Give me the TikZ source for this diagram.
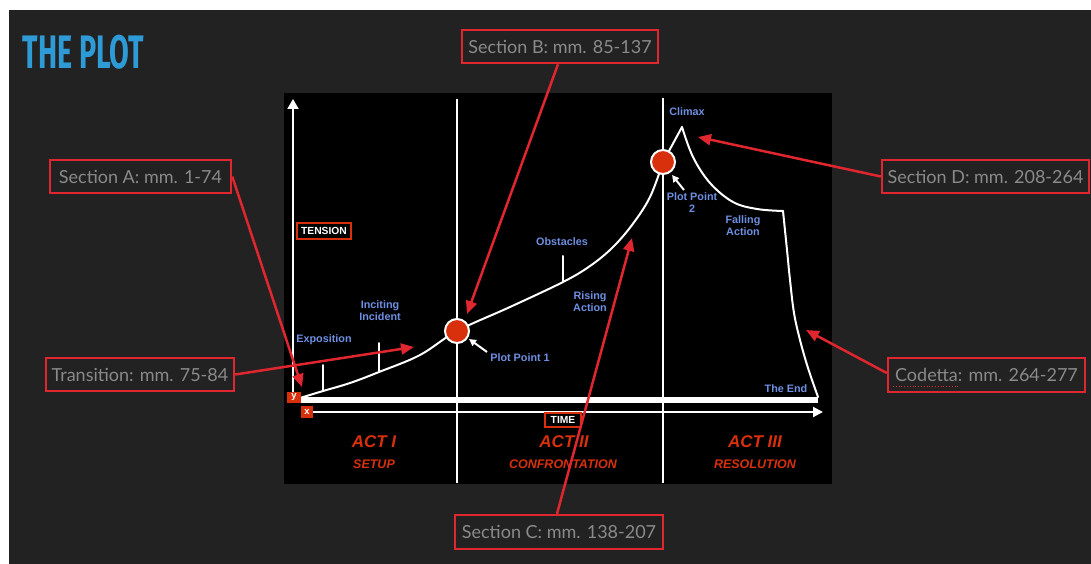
\documentclass[tikz,border=0pt]{standalone}
\usepackage{fontspec}
\setmainfont{Liberation Sans}
\newfontfamily\annfont{Lato}
\newfontfamily\titlefont{Fira Sans}
\usetikzlibrary{arrows.meta}
\definecolor{bgdark}{HTML}{222222}
\definecolor{titleblue}{HTML}{2E9BD6}
\definecolor{lblblue}{HTML}{6E8FE2}
\definecolor{actred}{HTML}{D8300C}
\definecolor{annred}{HTML}{E0262E}
\definecolor{anngray}{HTML}{8A8A8A}
\tikzset{
  lbl/.style={text=lblblue, font=\fontsize{10.8}{12}\selectfont\bfseries, align=center, inner sep=0pt},
  acttitle/.style={text=actred, font=\fontsize{17}{17}\selectfont\bfseries\itshape, inner sep=0pt},
  actsub/.style={text=actred, font=\fontsize{12.5}{12.5}\selectfont\bfseries\itshape, inner sep=0pt},
  annot/.style={draw=annred, line width=2.5pt, fill=bgdark, text=anngray, font=\annfont\fontsize{18}{18}\selectfont, inner sep=0pt},
  redarrow/.style={draw=annred, line width=2.5pt, -{Triangle[length=13pt,width=11pt]}},
  whitearrow/.style={draw=white, line width=2pt, -{Triangle[length=7pt,width=7pt]}},
  axisline/.style={draw=white, line width=2pt},
  divider/.style={draw=white, line width=2.5pt},
  plotline/.style={draw=white, line width=2pt, line cap=round, line join=round},
  ppoint/.style={circle, fill=actred, draw=white, line width=2pt, minimum size=24pt, inner sep=0pt},
  axtag/.style={draw=actred, line width=1.5pt, fill=black, text=white, font=\fontsize{10.3}{10.3}\selectfont\bfseries, inner sep=0pt},
  cornertag/.style={fill=actred, text=white, font=\fontsize{9.5}{9.5}\selectfont\bfseries, inner sep=0pt}
}
\begin{document}
\begin{tikzpicture}[x=1pt,y=-1pt]
\useasboundingbox (0,0) rectangle (1091,564);
\fill[white] (0,0) rectangle (1091,564);
\fill[bgdark] (9,10) rectangle (1091,564);

% title
\node[text=titleblue, inner sep=0pt] (title) at (83.5,52) {\scalebox{0.61}[1]{\titlefont\bfseries\fontsize{47}{47}\selectfont THE PLOT}};

% chart panel
\fill[black] (284,93) rectangle (832,484);

% axes
\coordinate (ybot) at (293,392);
\coordinate (ytop) at (293,99);
\draw[axisline, -{Triangle[length=10pt,width=11pt]}] (ybot) -- (ytop);
\coordinate (xleft) at (313,412);
\coordinate (xright) at (823,412);
\draw[axisline, -{Triangle[length=10pt,width=10pt]}] (xleft) -- (xright);
\coordinate (barl) at (300,400);
\coordinate (barr) at (818,400);
\draw[draw=white, line width=6pt] (barl) -- (barr);

% act dividers
\coordinate (d1t) at (457,99);
\coordinate (d1b) at (457,483);
\coordinate (d2t) at (663,98);
\coordinate (d2b) at (663,483);
\draw[divider] (d1t) -- (d1b);
\draw[divider] (d2t) -- (d2b);

% ticks
\draw[plotline] (323,365) -- (323,391);
\draw[plotline] (379,343) -- (379,372);
\draw[plotline] (563,256) -- (563,282);

% plot curve
\draw[plotline] plot[smooth, tension=0.6] coordinates {(300,398) (323,391) (350,383) (379,372) (420,355) (457,331) (510,307) (563,282) (590,266) (612,248) (632,225) (650,197) (663,162)} -- (682,127);
\draw[plotline] plot[smooth, tension=0.6] coordinates {(682,127) (693,157) (710,183) (733,202) (757,209) (783,211)};
\draw[plotline] plot[smooth, tension=0.6] coordinates {(783,211) (787,250) (790,280) (794,313) (800,340) (808,368) (818,397)};

% plot points
\node[ppoint] (pp1) at (457,331) {};
\node[ppoint] (pp2) at (663,162) {};

% labels
\node[lbl] (expo) at (324,340) {Exposition};
\node[lbl] (incit) at (380,311) {Inciting\\Incident};
\node[lbl] (pp1lbl) at (520,358) {Plot Point 1};
\node[lbl] (obst) at (562,242) {Obstacles};
\node[lbl] (rising) at (590,302) {Rising\\Action};
\node[lbl] (climax) at (687,112) {Climax};
\node[lbl] (pp2lbl) at (692,203) {Plot Point\\2};
\node[lbl] (falling) at (743,226) {Falling\\Action};
\node[lbl] (theend) at (786,389) {The End};

% white pointer arrows
\coordinate (pp1tail) at (487,352);
\coordinate (pp1tip) at (469,339);
\draw[whitearrow] (pp1tail) -- (pp1tip);
\coordinate (pp2tail) at (684,190);
\coordinate (pp2tip) at (672,175);
\draw[whitearrow] (pp2tail) -- (pp2tip);

% axis tags
\node[axtag, minimum width=54pt, minimum height=16pt] (tension) at (324,231) {TENSION};
\node[axtag, minimum width=36pt, minimum height=14pt] (time) at (563,420) {TIME};
\node[cornertag, minimum width=14pt, minimum height=11pt] (ytag) at (294,397) {y};
\node[cornertag, minimum width=12pt, minimum height=12pt] (xtag) at (307,412) {x};

% acts
\node[acttitle] (act1) at (374,442) {ACT I};
\node[actsub] (setup) at (374,464) {SETUP};
\node[acttitle] (act2) at (564,442) {ACT II};
\node[actsub] (confr) at (563,464) {CONFRONTATION};
\node[acttitle] (act3) at (755,442) {ACT III};
\node[actsub] (resol) at (755,464) {RESOLUTION};

% annotation boxes
\node[annot, minimum width=181pt, minimum height=33pt] (secA) at (140.5,176.5) {Section A: mm. 1-74};
\node[annot, minimum width=188pt, minimum height=33pt] (trans) at (140,374.5) {Transition: mm. 75-84};
\node[annot, minimum width=196pt, minimum height=33pt] (secB) at (560,46.5) {Section B: mm. 85-137};
\node[annot, minimum width=208pt, minimum height=34pt] (secC) at (559,532) {Section C: mm. 138-207};
\node[annot, minimum width=207pt, minimum height=33pt] (secD) at (985.5,176.5) {Section D: mm. 208-264};
\node[annot, minimum width=197pt, minimum height=34pt] (coda) at (986.5,375) {Codetta: mm. 264-277};
\draw[annred, line width=0.8pt, dotted] (893,386) -- (958,386);

% annotation arrows
\coordinate (tipA) at (302,387);
\coordinate (tipT) at (414,347);
\coordinate (tipB) at (467,314);
\coordinate (tipC) at (632,238);
\coordinate (tipD) at (698,137);
\coordinate (tipE) at (806,330);
\draw[redarrow] (secA.east) -- (tipA);
\draw[redarrow] (trans.east) -- (tipT);
\draw[redarrow] ([xshift=-2pt]secB.south) -- (tipB);
\draw[redarrow] ([xshift=-2pt]secC.north) -- (tipC);
\draw[redarrow] (secD.west) -- (tipD);
\draw[redarrow] ([yshift=2pt]coda.west) -- (tipE);
\end{tikzpicture}
\end{document}
